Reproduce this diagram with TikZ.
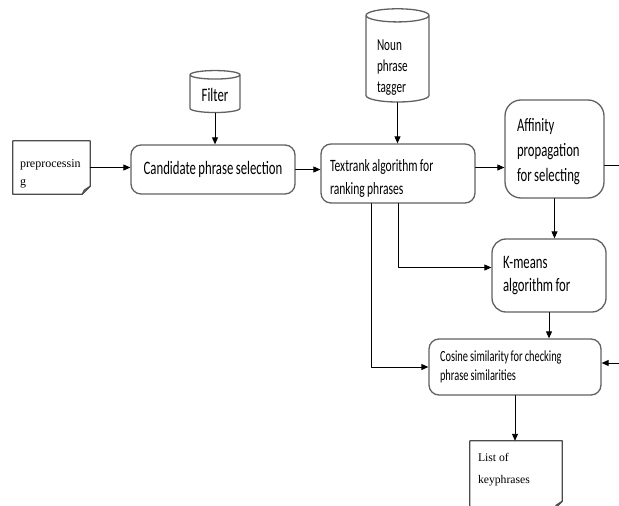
\documentclass[tikz,border=0pt]{standalone}
\usepackage{fontspec}
\setmainfont{Liberation Serif}
\newfontfamily\calib[FakeStretch=0.67, WordSpace=0.85]{Carlito}
\usetikzlibrary{shapes.geometric,arrows.meta}

\begin{document}
\begin{tikzpicture}[x=1pt, y=-1pt, line cap=round, line join=round, >={Triangle[length=7pt,width=6pt]},
  box/.style={draw=black!62, line width=1.3pt, rounded corners=10pt, inner ysep=0pt, align=flush left},
  drum/.style={cylinder, shape border rotate=90, aspect=0.32, draw=black!62, line width=1.3pt, inner sep=0pt, align=flush left},
  doc/.style={inner ysep=0pt, align=flush left},
  docline/.style={draw=black!70, line width=1.2pt},
  arr/.style={->, line width=0.9pt}]
\clip (0,0) rectangle (619,506); \fill[white] (0,0) rectangle (619,506);
\coordinate (affout) at (630,165); \coordinate (cosin) at (630,363);
\node[doc, text width=63pt, inner xsep=7pt, minimum height=53pt, font=\fontsize{12}{18}\selectfont] (PRE) at (51.5,167.5) {\rule{0pt}{20pt}preprocessin\\g};
\node[box, minimum width=164pt, minimum height=49pt, align=center, font=\fontsize{19}{24}\calib] (CAND) at (213,169.5) {Candidate phrase selection};
\node[drum, minimum width=50pt, minimum height=42pt, font=\fontsize{19}{24}\calib] (FILT) at (215,94) {\rule{0pt}{16pt}Filter};
\node[box, text width=136pt, inner xsep=9pt, minimum height=59pt, font=\fontsize{17.3}{23}\calib] (TR) at (398,173.5) {\rule{0pt}{22pt}Textrank algorithm for\\ranking phrases};
\node[drum, minimum width=63pt, minimum height=92pt, text width=41pt, font=\fontsize{16.7}{21}\calib] (NOUN) at (397.5,59) {\rule{0pt}{28pt}Noun\\phrase\\tagger};
\node[box, rounded corners=16pt, text width=75pt, inner xsep=12pt, minimum height=98pt, font=\fontsize{19}{25}\calib] (AFF) at (554.5,149) {\rule{0pt}{18pt}Affinity\\propagation\\for selecting};
\node[box, rounded corners=14pt, text width=92pt, inner xsep=11pt, minimum height=73pt, font=\fontsize{19}{23}\calib] (KM) at (549,275.5) {K-means\\algorithm for};
\node[box, text width=150pt, inner xsep=11pt, minimum height=56pt, font=\fontsize{15.5}{19}\calib] (COS) at (515,367) {Cosine similarity for checking\\phrase similarities};
\node[doc, text width=76pt, inner xsep=8pt, minimum height=68pt, font=\fontsize{11.7}{22}\selectfont] (KL) at (516,475) {List of\\keyphrases\rule[-14pt]{0pt}{14pt}};
\foreach \d in {PRE,KL} {
  \draw[docline] (\d.north west) -- (\d.north east) -- ([yshift=8pt]\d.south east) -- ([xshift=-8pt]\d.south east) -- (\d.south west) -- cycle;
  \draw[docline] ([yshift=8pt]\d.south east) -- ([xshift=-6pt,yshift=4pt]\d.south east) -- ([xshift=-8pt]\d.south east);
}
\draw[arr] (PRE.east) -- (PRE.east -| CAND.west);
\draw[arr] (FILT.south) -- (FILT.south |- CAND.north);
\draw[arr] (CAND.east) -- (CAND.east -| TR.west);
\draw[arr] (NOUN.south) -- (NOUN.south |- TR.north);
\draw[arr] ([yshift=6pt]TR.east) -- ([yshift=6pt]TR.east -| AFF.west);
\draw[line width=0.9pt] (AFF.east |- affout) -- (affout);
\draw[arr] (AFF.south) -- (AFF.south |- KM.north);
\draw[arr] (TR.south) |- ([yshift=8pt]KM.west);
\draw[arr] ([xshift=-27pt]TR.south) |- (COS.west);
\draw[arr] (KM.south) -- (KM.south |- COS.north);
\draw[arr] (cosin) -- (cosin -| COS.east);
\draw[arr] (COS.south) -- (COS.south |- KL.north);
\end{tikzpicture}
\end{document}
